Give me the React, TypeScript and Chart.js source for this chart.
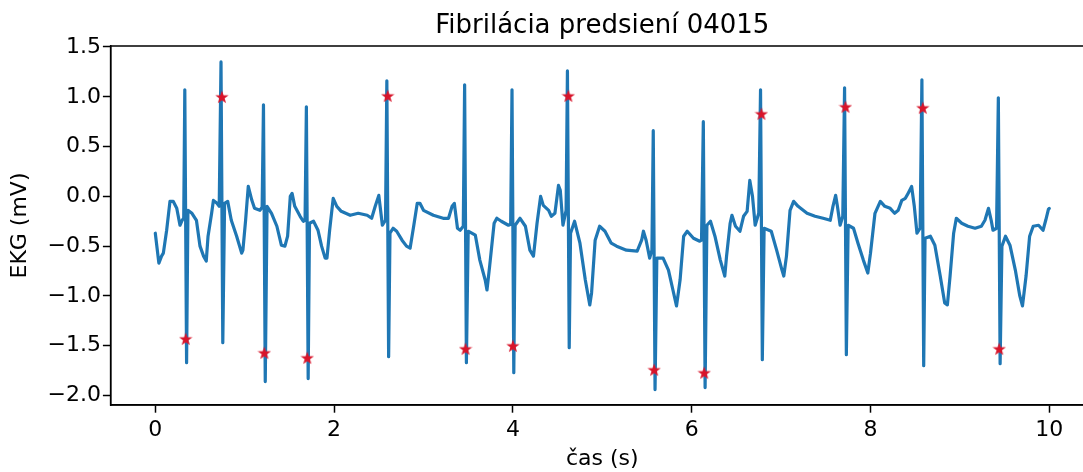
import React, { useEffect, useRef } from "react";
import { Chart, registerables } from "chart.js";

Chart.register(...registerables);

const titleText = "Fibrilácia predsiení 04015";
const xAxisLabel = "čas (s)";
const yAxisLabel = "EKG (mV)";

const xTickValues = [0, 2, 4, 6, 8, 10];
const xTickLabels = ["0", "2", "4", "6", "8", "10"];
const yTickValues = [-2, -1.5, -1, -0.5, 0, 0.5, 1, 1.5];
const yTickLabels = ["−2.0", "−1.5", "−1.0", "−0.5", "0.0", "0.5", "1.0", "1.5"];

// ECG trace (time in s, value in mV)
const timeS = [
  0.0, 0.04, 0.07, 0.09, 0.127, 0.164, 0.2, 0.24, 0.276, 0.3, 0.318,
  0.33, 0.35, 0.365, 0.41, 0.46, 0.5, 0.54, 0.57, 0.59, 0.63, 0.65, 0.69, 0.715,
  0.735, 0.755, 0.775, 0.81, 0.85, 0.91, 0.966, 0.98, 1.01, 1.04, 1.08, 1.11, 1.17, 1.195,
  1.21, 1.23, 1.25, 1.3, 1.36, 1.41, 1.45, 1.48, 1.51, 1.53, 1.56, 1.62, 1.655, 1.675,
  1.69, 1.71, 1.725, 1.77, 1.82, 1.86, 1.9, 1.92, 1.95, 1.99, 2.03, 2.08, 2.18, 2.27, 2.37, 2.42, 2.46, 2.5, 2.52, 2.54, 2.575,
  2.59, 2.61, 2.625, 2.66, 2.7, 2.76, 2.81, 2.85, 2.89, 2.93, 2.96, 3.0, 3.11, 3.22, 3.28, 3.32, 3.345, 3.38, 3.41, 3.445,
  3.46, 3.48, 3.5, 3.58, 3.63, 3.69, 3.71, 3.74, 3.79, 3.82, 3.87, 3.95, 3.975,
  3.99, 4.01, 4.025, 4.08, 4.14, 4.19, 4.23, 4.27, 4.31, 4.34, 4.4, 4.43, 4.47, 4.51, 4.53, 4.56, 4.595,
  4.61, 4.63, 4.645, 4.69, 4.75, 4.81, 4.86, 4.88, 4.92, 4.97, 5.03, 5.1, 5.16, 5.27, 5.39, 5.44, 5.46, 5.49, 5.53, 5.555,
  5.57, 5.59, 5.61, 5.68, 5.74, 5.79, 5.83, 5.87, 5.91, 5.95, 6.02, 6.09, 6.11,
  6.13, 6.15, 6.17, 6.21, 6.26, 6.32, 6.37, 6.39, 6.43, 6.45, 6.49, 6.54, 6.58, 6.62, 6.65, 6.68, 6.71, 6.75,
  6.77, 6.79, 6.81, 6.89, 6.95, 7.01, 7.03, 7.06, 7.1, 7.14, 7.19, 7.29, 7.38, 7.47, 7.55, 7.58, 7.61, 7.63, 7.66, 7.69,
  7.71, 7.73, 7.75, 7.81, 7.86, 7.92, 7.97, 8.0, 8.05, 8.11, 8.16, 8.22, 8.27, 8.31, 8.35, 8.39, 8.42, 8.46, 8.49, 8.52, 8.555,
  8.575, 8.595, 8.61, 8.67, 8.72, 8.78, 8.83, 8.86, 8.89, 8.93, 8.96, 9.02, 9.09, 9.17, 9.24, 9.28, 9.32, 9.35, 9.37, 9.41,
  9.43, 9.45, 9.47, 9.51, 9.56, 9.62, 9.67, 9.7, 9.74, 9.78, 9.82, 9.88, 9.93, 9.96, 9.99, 10.0,
];
const ekgMv = [
  -0.37, -0.67, -0.6, -0.57, -0.34, -0.05, -0.05, -0.12, -0.29, -0.24, -0.22,
  1.07, -1.67, -0.14, -0.17, -0.24, -0.5, -0.6, -0.65, -0.4, -0.17, -0.04, -0.07, -0.1,
  1.35, -1.47, -0.07, -0.05, -0.24, -0.4, -0.57, -0.54, -0.24, 0.1, -0.04, -0.12, -0.14, -0.11,
  0.92, -1.86, -0.1, -0.17, -0.3, -0.49, -0.5, -0.4, 0.0, 0.03, -0.1, -0.2, -0.25, -0.24,
  0.9, -1.83, -0.27, -0.25, -0.34, -0.5, -0.62, -0.62, -0.34, -0.02, -0.1, -0.15, -0.19, -0.17, -0.19, -0.22, -0.1, 0.01, -0.14, -0.29, -0.24,
  1.16, -1.61, -0.37, -0.32, -0.35, -0.44, -0.5, -0.52, -0.3, -0.07, -0.07, -0.14, -0.19, -0.22, -0.22, -0.1, -0.07, -0.32, -0.34, -0.3,
  1.12, -1.67, -0.35, -0.39, -0.64, -0.84, -0.94, -0.7, -0.27, -0.22, -0.25, -0.29, -0.28,
  1.07, -1.77, -0.29, -0.22, -0.3, -0.54, -0.6, -0.27, 0.0, -0.09, -0.14, -0.2, -0.17, 0.11, 0.06, -0.29, -0.14,
  1.26, -1.52, -0.37, -0.25, -0.47, -0.84, -1.09, -0.97, -0.44, -0.3, -0.35, -0.47, -0.5, -0.54, -0.55, -0.44, -0.35, -0.44, -0.62, -0.54,
  0.66, -1.94, -0.62, -0.62, -0.74, -0.94, -1.1, -0.84, -0.4, -0.35, -0.42, -0.45, -0.44,
  0.75, -1.92, -0.29, -0.25, -0.4, -0.64, -0.8, -0.6, -0.27, -0.19, -0.3, -0.35, -0.2, -0.15, 0.16, 0.0, -0.29, -0.17,
  1.07, -1.64, -0.32, -0.35, -0.54, -0.74, -0.8, -0.6, -0.14, -0.05, -0.1, -0.17, -0.2, -0.22, -0.24, -0.1, 0.01, -0.1, -0.29, -0.2,
  1.09, -1.59, -0.29, -0.32, -0.47, -0.64, -0.77, -0.57, -0.17, -0.05, -0.1, -0.12, -0.17, -0.14, -0.04, -0.02, 0.03, 0.1, -0.1, -0.37, -0.32,
  1.17, -1.7, -0.42, -0.4, -0.49, -0.8, -1.07, -1.09, -0.8, -0.37, -0.22, -0.27, -0.3, -0.32, -0.3, -0.24, -0.12, -0.24, -0.34, -0.32,
  0.99, -1.68, -0.5, -0.4, -0.49, -0.74, -1.0, -1.1, -0.8, -0.4, -0.3, -0.29, -0.34, -0.24, -0.13, -0.12,
];

// detected peaks (red stars)
const peakTimeS = [0.34, 0.745, 1.22, 1.7, 2.6, 3.47, 4.0, 4.62, 5.58, 6.14, 6.78, 7.72, 8.585, 9.44];
const peakMv = [-1.43, 1.0, -1.57, -1.62, 1.01, -1.53, -1.5, 1.01, -1.74, -1.77, 0.83, 0.9, 0.89, -1.53];

const LINE_COLOR = "#1f77b4";
const STAR_COLOR = "#d8142a";
const FONT = "'DejaVu Sans', sans-serif";

function makeStar(color: string, size: number) {
  const c = document.createElement("canvas");
  c.width = size;
  c.height = size;
  const ctx = c.getContext("2d")!;
  const cx = size / 2;
  const cy = size / 2 + size * 0.05;
  const R = size / 2;
  const r = R * 0.4;
  ctx.beginPath();
  for (let i = 0; i < 10; i++) {
    const a = -Math.PI / 2 + (i * Math.PI) / 5;
    const rad = i % 2 === 0 ? R : r;
    ctx.lineTo(cx + rad * Math.cos(a), cy + rad * Math.sin(a));
  }
  ctx.closePath();
  ctx.fillStyle = color;
  ctx.fill();
  return c;
}

const framePlugin = {
  id: "frame",
  afterDatasetsDraw(chart: any) {
    const { ctx, chartArea } = chart;
    ctx.save();
    ctx.strokeStyle = "#000";
    ctx.lineWidth = 1.5;
    ctx.strokeRect(chartArea.left, chartArea.top, chartArea.right - chartArea.left, chartArea.bottom - chartArea.top);
    ctx.restore();
  },
};

export default function App() {
  const ref = useRef<HTMLCanvasElement | null>(null);

  useEffect(() => {
    if (!ref.current) return;
    const lineData = timeS.map((t, i) => ({ x: t, y: ekgMv[i] }));
    const starData = peakTimeS.map((t, i) => ({ x: t, y: peakMv[i] }));
    const star = makeStar(STAR_COLOR, 14);

    const chart = new Chart(ref.current, {
      type: "line",
      data: {
        datasets: [
          {
            label: "peaks",
            data: starData,
            showLine: false,
            pointStyle: star as any,
            pointRadius: 7,
            pointHoverRadius: 7,
            order: 0,
          } as any,
          {
            label: "EKG",
            data: lineData,
            borderColor: LINE_COLOR,
            borderWidth: 3.2,
            pointRadius: 0,
            tension: 0,
            fill: false,
            borderJoinStyle: "round",
            borderCapStyle: "round",
            order: 1,
          } as any,
        ],
      },
      plugins: [framePlugin],
      options: {
        animation: false,
        responsive: false,
        devicePixelRatio: 1,
        layout: { padding: { left: 0, right: 16, top: 0, bottom: 0 } },
        plugins: {
          legend: { display: false },
          tooltip: { enabled: false },
          title: {
            display: true,
            text: titleText,
            fullSize: false,
            color: "#000",
            font: { family: FONT, size: 26, weight: "normal" },
            padding: { top: 11, bottom: 3.8 },
          },
        },
        scales: {
          x: {
            type: "linear",
            min: -0.5,
            max: 10.5,
            afterFit: (s: any) => {
              s.height = 67;
            },
            afterBuildTicks: (s: any) => {
              s.ticks = xTickValues.map((v) => ({ value: v }));
            },
            ticks: {
              autoSkip: false,
              maxRotation: 0,
              color: "#000",
              padding: 4,
              font: { family: FONT, size: 22 },
              callback: (_v: any, i: number) => xTickLabels[i],
            },
            grid: {
              display: true,
              drawOnChartArea: false,
              drawTicks: true,
              tickLength: 7.7,
              tickWidth: 1.5,
              tickColor: "#000",
            },
            border: { display: true, color: "#000", width: 1.5 },
            title: {
              display: true,
              text: xAxisLabel,
              color: "#000",
              font: { family: FONT, size: 22 },
              padding: { top: 0, bottom: 0 },
            },
          },
          y: {
            type: "linear",
            min: -2.095,
            max: 1.51,
            afterFit: (s: any) => {
              s.width = 110.6;
            },
            afterBuildTicks: (s: any) => {
              s.ticks = yTickValues.map((v) => ({ value: v }));
            },
            ticks: {
              autoSkip: false,
              color: "#000",
              padding: 2,
              font: { family: FONT, size: 22 },
              callback: (_v: any, i: number) => yTickLabels[i],
            },
            grid: {
              display: true,
              drawOnChartArea: false,
              drawTicks: true,
              tickLength: 7.7,
              tickWidth: 1.5,
              tickColor: "#000",
            },
            border: { display: true, color: "#000", width: 1.5 },
            title: {
              display: true,
              text: yAxisLabel,
              color: "#000",
              font: { family: FONT, size: 22 },
              padding: { top: 6.8, bottom: 0 },
            },
          },
        },
      } as any,
    });
    return () => chart.destroy();
  }, []);

  return (
    <div
      style={{
        position: "fixed",
        left: 0,
        top: 0,
        width: 1083,
        height: 472,
        overflow: "hidden",
        background: "#fff",
      }}
    >
      <canvas ref={ref} width={1110} height={472} style={{ display: "block" }} />
    </div>
  );
}
